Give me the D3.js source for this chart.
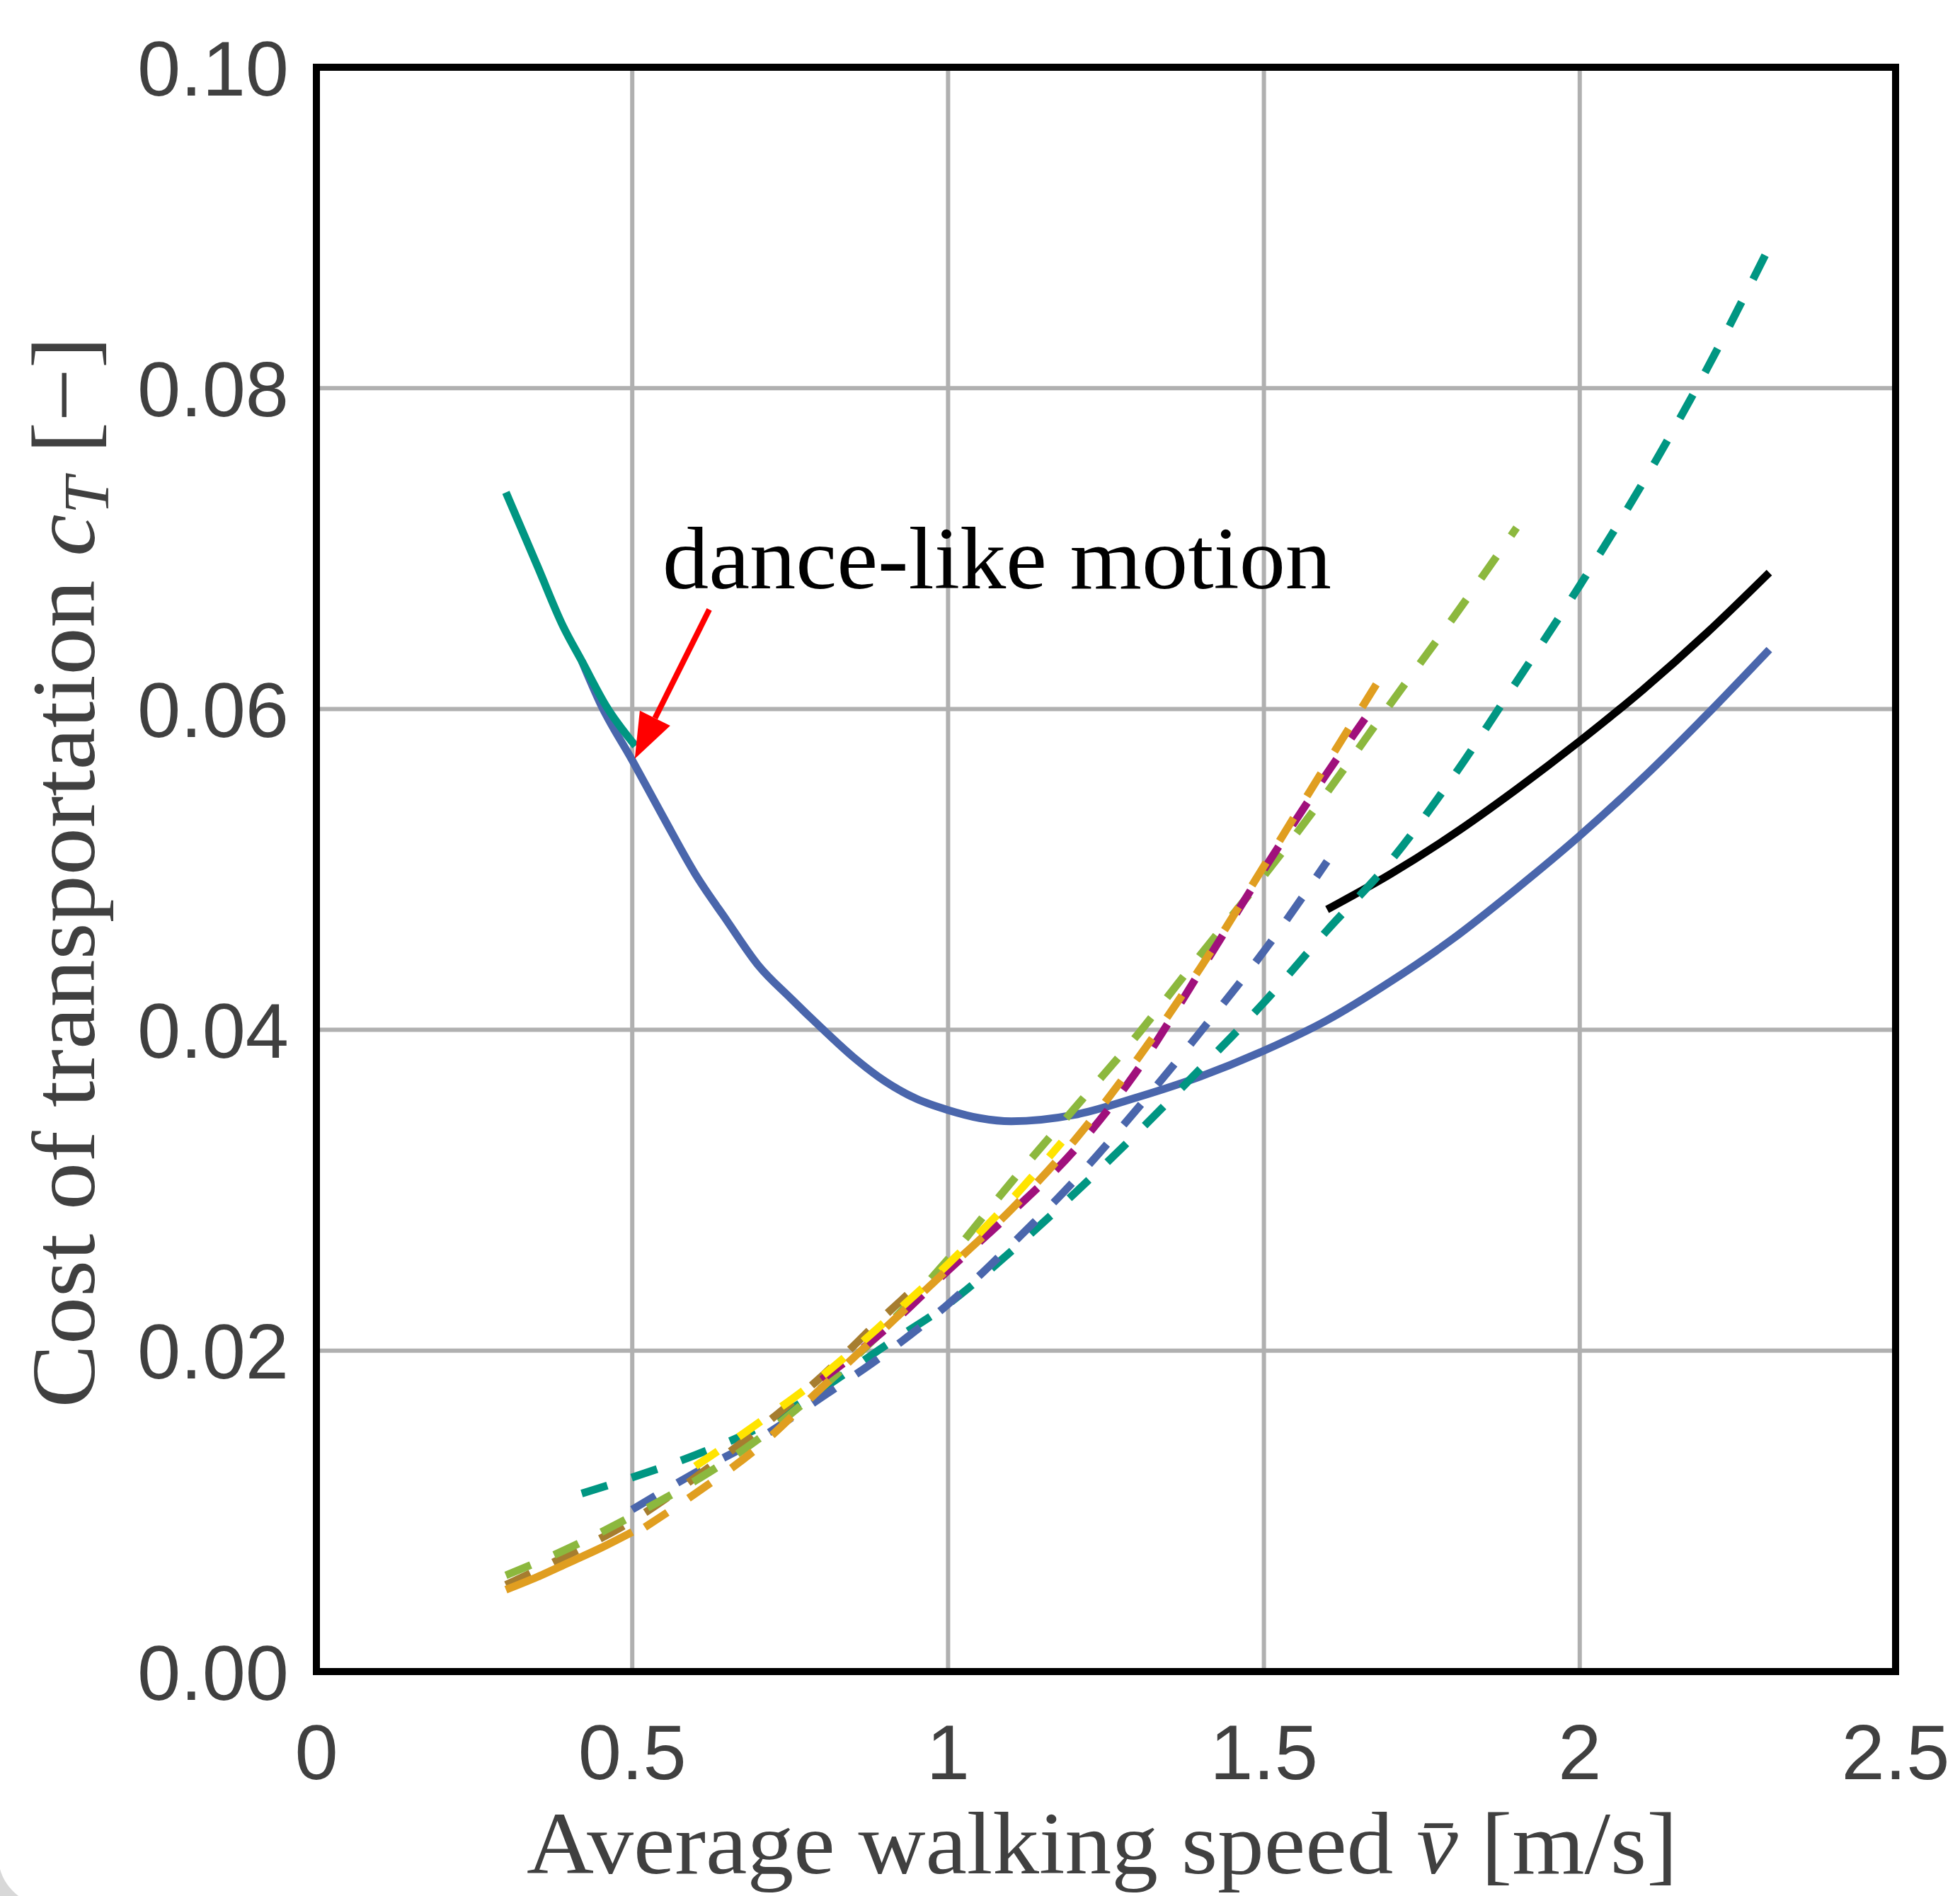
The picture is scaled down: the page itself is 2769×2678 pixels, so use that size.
<!DOCTYPE html>
<html>
<head>
<meta charset="utf-8">
<script src="https://cdnjs.cloudflare.com/ajax/libs/d3/7.8.5/d3.min.js"></script>
<style>
  body { margin: 0; background: #fff; }
</style>
</head>
<body>
<svg id="chart"></svg>
<script>
// ---- data ----
var xTicks = [0, 0.5, 1, 1.5, 2, 2.5]
var xTickLabels = ['0', '0.5', '1', '1.5', '2', '2.5']
var yTicks = [0, 0.02, 0.04, 0.06, 0.08, 0.1]
var yTickLabels = ['0.00', '0.02', '0.04', '0.06', '0.08', '0.10']

var speedBlueSolid = [0.42,0.45,0.5,0.55,0.6,0.65,0.7,0.75,0.8,0.85,0.9,0.95,1.0,1.05,1.1,1.2,1.3,1.4,1.5,1.6,1.7,1.8,1.9,2.0,2.1,2.2,2.3]
var costBlueSolid  = [0.0630,0.0603,0.0568,0.0532,0.0497,0.0468,0.0440,0.0420,0.0401,0.0383,0.0368,0.0357,0.0350,0.0345,0.0343,0.0347,0.0358,0.0371,0.0387,0.0406,0.0430,0.0457,0.0488,0.0521,0.0557,0.0596,0.0637]

var speedTealSolid = [0.3,0.35,0.39,0.42,0.46,0.505]
var costTealSolid  = [0.0735,0.0689,0.0652,0.0630,0.0601,0.0577]

var speedBlackSolid = [1.6,1.7,1.8,1.9,2.0,2.1,2.2,2.3]
var costBlackSolid  = [0.0475,0.0497,0.0522,0.0550,0.0580,0.0612,0.0647,0.0685]

var speedOrangeSolid = [0.3,0.35,0.4,0.45,0.5]
var costOrangeSolid  = [0.0051,0.0059,0.0068,0.0077,0.0087]

var speedTealDash = [0.42,0.5,0.6,0.7,0.8,0.9,1.0,1.1,1.2,1.3,1.4,1.5,1.6,1.7,1.8,1.9,2.0,2.1,2.2,2.3]
var costTealDash  = [0.0111,0.0121,0.0135,0.0152,0.0176,0.0203,0.0229,0.0262,0.0298,0.0336,0.0376,0.0417,0.0462,0.0505,0.0558,0.0617,0.0677,0.0741,0.0811,0.0888]

var speedBlueDash = [0.5,0.6,0.7,0.8,0.9,1.0,1.1,1.2,1.3,1.4,1.5,1.6]
var costBlueDash  = [0.0101,0.0124,0.0145,0.0171,0.0198,0.0229,0.0266,0.0306,0.0351,0.0399,0.0449,0.0505]

var speedGreenDash = [0.3,0.4,0.5,0.6,0.7,0.8,0.9,1.0,1.1,1.2,1.3,1.4,1.5,1.6,1.7,1.8,1.9]
var costGreenDash  = [0.0060,0.0077,0.0097,0.0119,0.0145,0.0177,0.0214,0.0257,0.0305,0.0351,0.0397,0.0447,0.0496,0.0548,0.0603,0.0657,0.0713]

var speedBrownDash = [0.3,0.4,0.5,0.6,0.7,0.8,0.9,0.95]
var costBrownDash  = [0.0054,0.0073,0.0094,0.0121,0.0151,0.0184,0.0222,0.0240]

var speedMagentaDash = [0.8,0.9,1.0,1.1,1.2,1.3,1.4,1.5,1.6,1.66]
var costMagentaDash  = [0.0182,0.0213,0.0250,0.0286,0.0325,0.0375,0.0437,0.0500,0.0560,0.0594]

var speedOrangeDash = [0.52,0.6,0.7,0.8,0.9,1.0,1.1,1.2,1.3,1.4,1.5,1.6,1.69]
var costOrangeDash  = [0.0090,0.0111,0.0140,0.0177,0.0214,0.0251,0.0288,0.0331,0.0382,0.0439,0.0502,0.0566,0.0623]

var speedYellowDash = [0.6,0.7,0.8,0.9,1.0,1.1,1.18]
var costYellowDash  = [0.0128,0.0155,0.0184,0.0218,0.0254,0.0294,0.0330]

// annotation: text anchor and arrow (start -> tip), in data units
var noteText = 'dance-like motion'
var notePos = [0.548, 0.0675]
var arrowFrom = [0.622, 0.0662]
var arrowTo = [0.504, 0.0569]

var series = [
  {x: speedBlueSolid, y: costBlueSolid, color: '#4a66ac', dash: null},
  {x: speedTealSolid, y: costTealSolid, color: '#009682', dash: null},
  {x: speedBlackSolid, y: costBlackSolid, color: '#000000', dash: null},
  {x: speedTealDash, y: costTealDash, color: '#009682', dash: '38,36'},
  {x: speedBlueDash, y: costBlueDash, color: '#4a66ac', dash: '38,36'},
  {x: speedBrownDash, y: costBrownDash, color: '#a67d2f', dash: '38,36'},
  {x: speedGreenDash, y: costGreenDash, color: '#8cb83e', dash: '38,36'},
  {x: speedMagentaDash, y: costMagentaDash, color: '#a0107c', dash: '38,36'},
  {x: speedYellowDash, y: costYellowDash, color: '#ffe400', dash: '38,36'},
  {x: speedOrangeDash, y: costOrangeDash, color: '#e09e20', dash: '38,36'},
  {x: speedOrangeSolid, y: costOrangeSolid, color: '#e09e20', dash: null}
]

var screen = {width: 2769, height: 2678}
var margins = {top: 95, bottom: 317, left: 447, right: 91}
var width = screen.width - margins.left - margins.right
var height = screen.height - margins.top - margins.bottom

var xScale = d3.scaleLinear().domain([0, 2.5]).range([0, width])
var yScale = d3.scaleLinear().domain([0, 0.1]).range([height, 0])

var svg = d3.select('#chart')
  .attr('width', screen.width)
  .attr('height', screen.height)

svg.append('rect')
  .attr('width', screen.width).attr('height', screen.height)
  .attr('fill', '#fff')

// light grey rounded-corner remnant at bottom left
svg.append('path')
  .attr('d', 'M0,2640 Q6,2662 26,2678 L0,2678 Z')
  .attr('fill', '#d8d8d8')

var plot = svg.append('g')
  .attr('transform', 'translate(' + margins.left + ',' + margins.top + ')')

// grid
plot.selectAll('.vgrid')
  .data(xTicks.slice(1, -1))
  .enter().append('line')
  .attr('x1', function(d){return xScale(d)}).attr('x2', function(d){return xScale(d)})
  .attr('y1', 0).attr('y2', height)
  .attr('stroke', '#b0b0b0').attr('stroke-width', 6)

plot.selectAll('.hgrid')
  .data(yTicks.slice(1, -1))
  .enter().append('line')
  .attr('y1', function(d){return yScale(d)}).attr('y2', function(d){return yScale(d)})
  .attr('x1', 0).attr('x2', width)
  .attr('stroke', '#b0b0b0').attr('stroke-width', 6)

// curves
var line = d3.line()
  .x(function(d){return xScale(d[0])})
  .y(function(d){return yScale(d[1])})
  .curve(d3.curveMonotoneX)

series.forEach(function(s){
  var pts = s.x.map(function(v, i){return [v, s.y[i]]})
  plot.append('path')
    .datum(pts)
    .attr('d', line)
    .attr('fill', 'none')
    .attr('stroke', s.color)
    .attr('stroke-width', 11)
    .attr('stroke-dasharray', s.dash)
})

// frame
plot.append('rect')
  .attr('x', 0).attr('y', 0)
  .attr('width', width).attr('height', height)
  .attr('fill', 'none')
  .attr('stroke', '#000').attr('stroke-width', 10)

// tick labels
var tickFont = '"Liberation Sans", Arial, Helvetica, sans-serif'
plot.selectAll('.xlab')
  .data(xTicks)
  .enter().append('text')
  .attr('x', function(d){return xScale(d)})
  .attr('y', height + 152)
  .attr('text-anchor', 'middle')
  .attr('font-family', tickFont)
  .attr('font-size', 110)
  .attr('fill', '#404040')
  .text(function(d, i){return xTickLabels[i]})

plot.selectAll('.ylab')
  .data(yTicks)
  .enter().append('text')
  .attr('x', -39)
  .attr('y', function(d){return yScale(d)})
  .attr('dy', '0.36em')
  .attr('text-anchor', 'end')
  .attr('font-family', tickFont)
  .attr('font-size', 110)
  .attr('fill', '#404040')
  .text(function(d, i){return yTickLabels[i]})

// axis titles
var serif = '"Liberation Serif", "DejaVu Serif", serif'
var xTitle = svg.append('text')
  .attr('x', 1557).attr('y', 2646)
  .attr('text-anchor', 'middle')
  .attr('font-family', serif)
  .attr('font-size', 124)
  .attr('fill', '#404040')
  .attr('textLength', 1626)
  .attr('lengthAdjust', 'spacingAndGlyphs')
xTitle.append('tspan').text('Average walking speed ')
xTitle.append('tspan').attr('font-style', 'italic').text('v\u0304')
xTitle.append('tspan').text(' [m/s]')

var yTitle = svg.append('text')
  .attr('transform', 'translate(133,1232) rotate(-90)')
  .attr('text-anchor', 'middle')
  .attr('font-family', serif)
  .attr('font-size', 128)
  .attr('fill', '#404040')
  .attr('textLength', 1513)
  .attr('lengthAdjust', 'spacingAndGlyphs')
yTitle.append('tspan').text('Cost of transportation ')
yTitle.append('tspan').attr('font-style', 'italic').text('c')
yTitle.append('tspan').attr('font-style', 'italic').attr('font-size', 90).attr('dy', 20).text('T')
yTitle.append('tspan').attr('dy', -20).text(' [\u2212]')

// annotation
plot.append('text')
  .attr('x', xScale(notePos[0])).attr('y', yScale(notePos[1]))
  .attr('font-family', serif)
  .attr('font-size', 124)
  .attr('fill', '#000')
  .attr('textLength', 945)
  .attr('lengthAdjust', 'spacingAndGlyphs')
  .text(noteText)

var ax0 = xScale(arrowFrom[0]), ay0 = yScale(arrowFrom[1])
var ax1 = xScale(arrowTo[0]), ay1 = yScale(arrowTo[1])
var ang = Math.atan2(ay1 - ay0, ax1 - ax0)
var headLen = 64, headW = 24
var bx = ax1 - headLen * Math.cos(ang), by = ay1 - headLen * Math.sin(ang)
plot.append('line')
  .attr('x1', ax0).attr('y1', ay0)
  .attr('x2', bx).attr('y2', by)
  .attr('stroke', '#ff0000').attr('stroke-width', 8)
plot.append('path')
  .attr('d', 'M' + ax1 + ',' + ay1 +
    'L' + (bx + headW * Math.sin(ang)) + ',' + (by - headW * Math.cos(ang)) +
    'L' + (bx - headW * Math.sin(ang)) + ',' + (by + headW * Math.cos(ang)) + 'Z')
  .attr('fill', '#ff0000')
</script>
</body>
</html>
